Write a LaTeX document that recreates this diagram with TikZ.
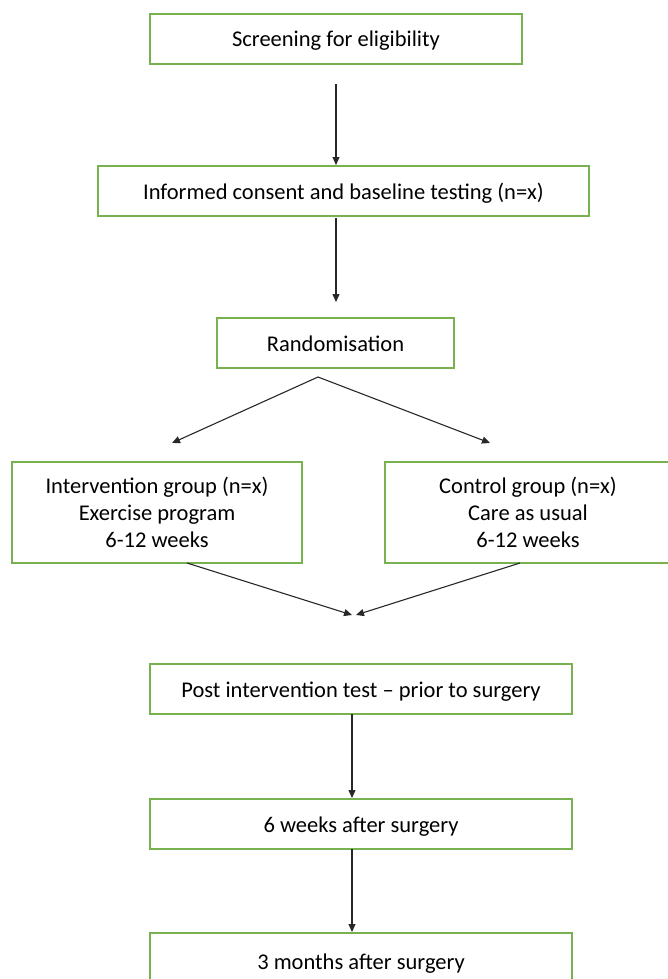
\documentclass[tikz,border=0pt]{standalone}
\usepackage{fontspec}
\setmainfont{Carlito}
\usetikzlibrary{arrows.meta}
\definecolor{boxgreen}{RGB}{120,178,80}
\definecolor{linegray}{RGB}{40,40,40}
\begin{document}
\begin{tikzpicture}[x=1pt,y=-1pt,
  box/.style={draw=boxgreen,line width=1.6pt,fill=white,inner sep=0pt,font=\fontsize{22.5}{27}\selectfont,align=center},
  onebox/.style={box,text height=16pt,text depth=0pt},
  arr/.style={draw=linegray,line width=1.1pt,-{Triangle[length=8pt,width=7pt]}}]
\useasboundingbox (0,0) rectangle (668,979);
\clip (0,0) rectangle (668,979);
\node[onebox,minimum width=372pt,minimum height=50pt] (s) at (336,39) {Screening for eligibility};
\node[onebox,minimum width=491pt,minimum height=50pt] (c) at (343.5,191) {Informed consent and baseline testing (n=x)};
\node[onebox,minimum width=237pt,minimum height=50pt] (r) at (335.5,343) {Randomisation};
\node[box,minimum width=290pt,minimum height=101pt] (ig) at (157,512.5) {Intervention group (n=x)\\Exercise program\\6-12 weeks};
\node[box,minimum width=286pt,minimum height=101pt] (cg) at (528,512.5) {Control group (n=x)\\Care as usual\\6-12 weeks};
\node[onebox,minimum width=422pt,minimum height=50pt] (p) at (361,689) {Post intervention test -- prior to surgery};
\node[onebox,minimum width=422pt,minimum height=50pt] (w) at (361,824) {6 weeks after surgery};
\node[onebox,minimum width=422pt,minimum height=56pt] (m) at (361,961) {3 months after surgery};
\coordinate (s1) at (336,84);
\coordinate (c1) at (336,165);
\coordinate (c2) at (336,218);
\coordinate (r1) at (336,302);
\coordinate (rs) at (318,377);
\coordinate (ia) at (172,443);
\coordinate (ca) at (490,443);
\coordinate (is) at (187,563);
\coordinate (cs) at (520,563);
\coordinate (pa1) at (352,615);
\coordinate (pa2) at (356,615);
\coordinate (p1) at (352,714);
\coordinate (w1) at (352,798);
\coordinate (w2) at (352,849);
\coordinate (m1) at (352,932);
\draw[arr] (s1) -- (c1);
\draw[arr] (c2) -- (r1);
\draw[arr] (rs) -- (ia);
\draw[arr] (rs) -- (ca);
\draw[arr] (is) -- (pa1);
\draw[arr] (cs) -- (pa2);
\draw[arr] (p1) -- (w1);
\draw[arr] (w2) -- (m1);
\end{tikzpicture}
\end{document}
